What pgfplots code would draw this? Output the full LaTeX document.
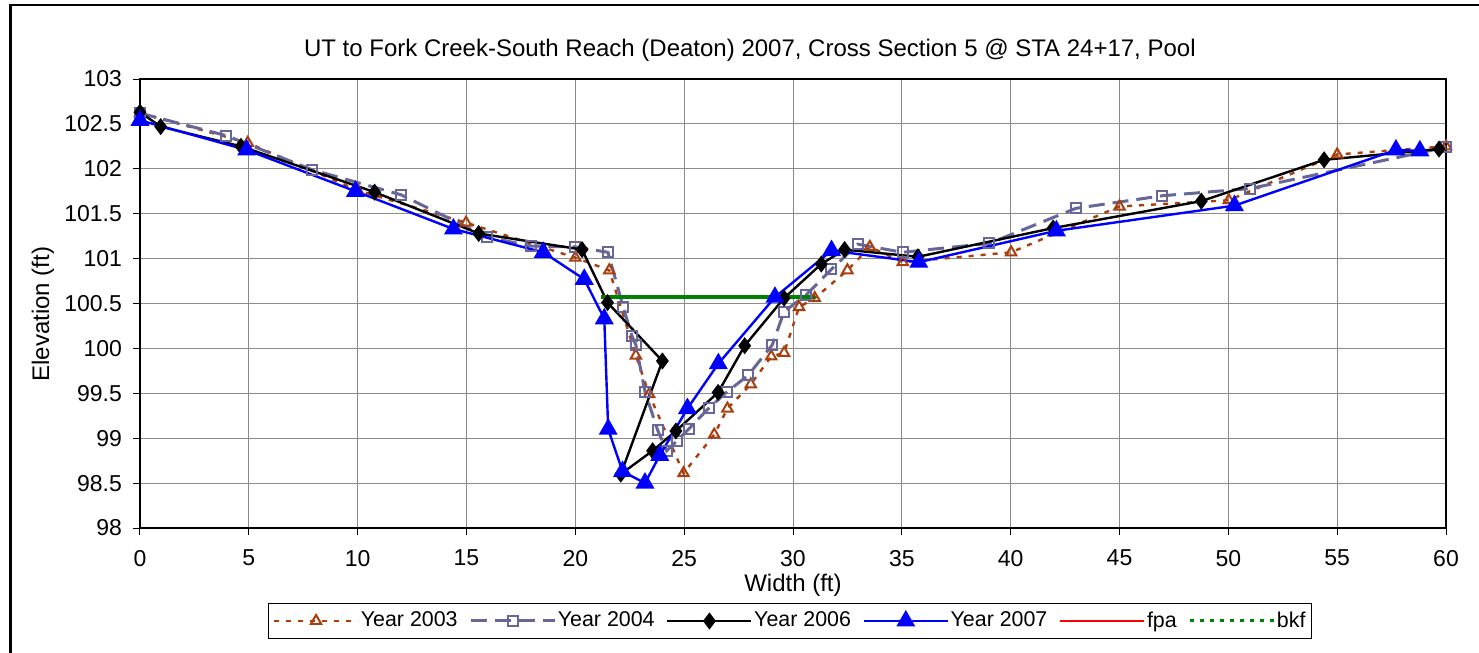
\documentclass[border=0pt]{standalone}
\usepackage{pgfplots}
\pgfplotsset{compat=1.18}
\usepackage{pgfplotstable}
\usepackage{fontspec}
\setmainfont{Liberation Sans}
\definecolor{c03}{RGB}{170,62,12}
\definecolor{c04}{RGB}{102,102,153}
\definecolor{cbkf}{RGB}{0,128,0}
\definecolor{gridc}{RGB}{140,140,140}

\pgfplotstableread{
x y
0 102.62
4.95 102.29
10 101.76
14.98 101.4
20 101.01
21.56 100.87
22.78 99.92
23.39 99.49
24.97 98.61
26.38 99.04
26.99 99.33
28.06 99.6
29.0 99.91
29.59 99.95
30.28 100.46
31.0 100.56
32.5 100.87
33.53 101.13
35.04 100.96
40.02 101.07
45.0 101.58
50.02 101.65
55.0 102.16
60 102.25
}\yeara

\pgfplotstableread{
x y
0 102.62
3.96 102.37
7.9 101.99
12.0 101.71
15.94 101.24
17.97 101.14
20.0 101.13
21.5 101.07
22.2 100.46
22.6 100.14
22.78 100.04
23.2 99.52
23.78 99.09
24.2 98.86
24.66 98.97
25.2 99.1
26.15 99.34
26.99 99.52
27.94 99.7
29.05 100.04
29.59 100.41
30.58 100.59
31.76 100.88
32.98 101.16
35.04 101.07
39.02 101.17
43.0 101.56
46.97 101.7
51.0 101.78
60 102.24
}\yearb

\pgfplotstableread{
x y
0 102.63
0.95 102.47
4.64 102.25
10.78 101.74
15.56 101.28
20.31 101.1
21.48 100.51
24.0 99.86
22.09 98.6
23.55 98.86
24.62 99.08
26.56 99.51
27.78 100.03
29.59 100.56
31.3 100.94
32.37 101.1
35.74 101.02
41.95 101.34
48.76 101.64
54.4 102.1
59.68 102.22
}\yearc

\pgfplotstableread{
x y
0 102.54
4.9 102.21
9.9 101.75
14.4 101.33
18.53 101.07
20.41 100.77
21.33 100.33
21.51 99.1
22.17 98.63
23.2 98.5
23.88 98.81
25.15 99.33
26.57 99.83
29.17 100.57
31.77 101.09
35.78 100.96
42.1 101.31
50.28 101.59
57.7 102.21
58.8 102.2
}\yeard

\pgfplotstableread{
x y
21.2 100.57
31.0 100.57
}\bkf

\begin{document}
\begin{tikzpicture}
\useasboundingbox (-70pt,-62.5pt) rectangle (669.5pt,264pt);
\draw[line width=1.3pt] (-64.6pt,-80pt) -- (-64.6pt,261.5pt) -- (690pt,261.5pt);
\begin{axis}[
  scale only axis, width=653pt, height=224.5pt,
  xmin=0, xmax=60, ymin=98, ymax=103,
  xtick={0,5,10,15,20,25,30,35,40,45,50,55,60},
  ytick={98,98.5,99,99.5,100,100.5,101,101.5,102,102.5,103},
  /pgf/number format/assume math mode=true,
  ticklabel style={font=\fontsize{11.5}{13}\selectfont},
  xticklabel style={yshift=-4pt},
  yticklabel style={xshift=-2pt},
  grid=major, major grid style={gridc, line width=0.5pt},
  axis line style={black, line width=1pt},
  tick align=outside, tick pos=left, major tick length=3.5pt,
  tick style={black, line width=0.5pt},
  title={UT to Fork Creek-South Reach (Deaton) 2007, Cross Section 5 @ STA 24+17, Pool},
  title style={at={(0.467,1.0378)}, anchor=center, font=\fontsize{12}{14}\selectfont},
  xlabel={Width (ft)},
  xlabel style={at={(0.5,-0.127)}, anchor=center, font=\fontsize{12}{14}\selectfont},
  ylabel={Elevation (ft)},
  ylabel style={at={(-0.0743,0.4766)}, anchor=center, font=\fontsize{12}{14}\selectfont},
  legend style={at={(0.4977,-0.2071)}, anchor=center, legend columns=6, draw=black,
    line width=0.6pt,
    font=\fontsize{10.7}{12}\selectfont, inner sep=2pt,
    nodes={inner xsep=0.8pt},
    /tikz/every even column/.append style={column sep=5pt}},
  legend image code/.code={\draw[mark repeat=2,mark phase=2] plot coordinates {(0pt,0pt) (21pt,0pt) (42pt,0pt)};},
]
\addplot[c03, line width=1.2pt, dash pattern=on 2.5pt off 3.5pt, mark=triangle, mark size=3pt, mark options={solid, line width=1pt}] table {\yeara};
\addlegendentry{Year 2003}
\addplot[c04, line width=1.5pt, dash pattern=on 8pt off 4pt, mark=square, mark size=2.5pt, mark options={solid, line width=1pt}] table {\yearb};
\addlegendentry{Year 2004}
\addplot[black, line width=1.2pt, mark=diamond*, mark size=3.3pt] table {\yearc};
\addlegendentry{Year 2006}
\addplot[blue, line width=1.2pt, mark=triangle*, mark size=4.3pt] table {\yeard};
\addlegendentry{Year 2007}
\addlegendimage{red, line width=1.2pt}
\addlegendentry{fpa}
\addplot[cbkf, line width=2pt, forget plot] table {\bkf};
\addlegendimage{cbkf, line width=1.5pt, dash pattern=on 2pt off 3pt}
\addlegendentry{bkf}
\end{axis}
\end{tikzpicture}
\end{document}
